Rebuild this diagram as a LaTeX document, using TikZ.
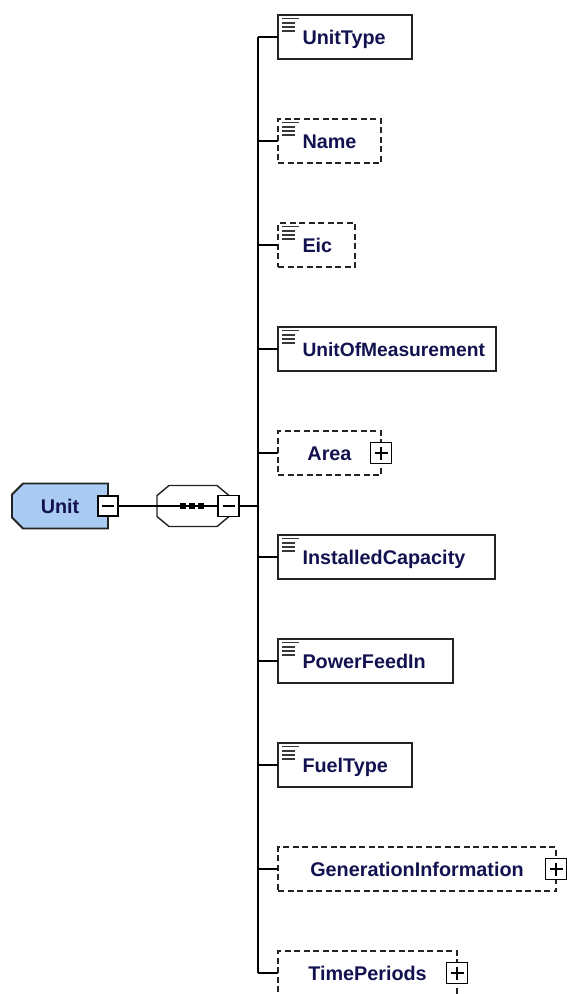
\documentclass[tikz,border=0pt]{standalone}
\usepackage{fontspec}
\setmainfont{Liberation Sans}
\pgfdeclarelayer{bg}
\pgfsetlayers{bg,main}
\definecolor{txt}{RGB}{18,18,80}
\definecolor{unitfill}{RGB}{170,204,242}
\definecolor{edge}{RGB}{35,35,35}
\definecolor{icon}{RGB}{55,55,55}
\newcommand\simpleicon[1]{%
  \draw[iconline] ([shift={(4,3.5)}]#1.north west) -- ++(17,0);
  \foreach \k in {1,2,3}{\draw[iconline] ([shift={(4,{3.5+4.2*\k})}]#1.north west) -- ++(13,0);}}
\newcommand\plussign[1]{%
  \draw[line width=1.4pt] ([xshift=-6.5pt]#1.center) -- ([xshift=6.5pt]#1.center);
  \draw[line width=1.4pt] ([yshift=-6.5pt]#1.center) -- ([yshift=6.5pt]#1.center);}
\newcommand\minussign[1]{%
  \draw[line width=1.3pt] ([xshift=-6pt]#1.center) -- ([xshift=6pt]#1.center);}
\newcommand\ind{\hspace*{24.5pt}}
\begin{document}
\begin{tikzpicture}[x=1pt,y=-1pt,
  lbl/.style={font=\fontsize{19.8}{20}\selectfont\bfseries, text=txt, text height=14pt, text depth=0pt, inner sep=0pt},
  elem/.style={lbl, rectangle, minimum height=44pt, text width=#1, align=left, anchor=west, outer sep=0pt, draw=edge, line width=2pt},
  optelem/.style={lbl, rectangle, minimum height=44pt, text width=#1, align=left, anchor=west, outer sep=0pt, draw=edge, line width=1.6pt, dash pattern=on 6pt off 3.5pt},
  optcplx/.style={lbl, rectangle, minimum height=44pt, minimum width=#1, anchor=west, outer sep=0pt, draw=edge, line width=1.6pt, dash pattern=on 6pt off 3.5pt},
  conn/.style={line width=1.5pt, black},
  tog/.style={rectangle, draw=black, fill=white, line width=1.4pt, minimum size=21pt, inner sep=0pt, solid},
  iconline/.style={line width=1.7pt, icon},
  compo/.style={rectangle, inner sep=0pt, outer sep=0pt}
]
\useasboundingbox (0,0) rectangle (567,994);
\clip (0,0) rectangle (567,994);

% root element
\node[compo, lbl, minimum width=96pt, minimum height=45pt] (unit) at (60,506) {Unit};
\begin{pgfonlayer}{bg}
\draw[fill=unitfill, draw=edge, line width=1.8pt]
  ([xshift=11pt]unit.north west) -- (unit.north east) -- (unit.south east)
  -- ([xshift=11pt]unit.south west) -- ([yshift=11pt]unit.south west)
  -- ([yshift=-11pt]unit.north west) -- cycle;
\end{pgfonlayer}
\node[tog, minimum size=20pt] (unitm) at (108,506) {};
\minussign{unitm}

% sequence compositor
\node[compo, minimum width=72pt, minimum height=41pt] (seq) at (193,506) {};
\draw[fill=white, draw=edge, line width=1.4pt]
  ([xshift=12pt]seq.north west) -- ([xshift=-12pt]seq.north east)
  -- ([yshift=-10pt]seq.north east) -- ([yshift=10pt]seq.south east)
  -- ([xshift=-12pt]seq.south east) -- ([xshift=12pt]seq.south west)
  -- ([yshift=10pt]seq.south west) -- ([yshift=-10pt]seq.north west) -- cycle;
\node[tog] (seqm) at (228.5,506) {};
\minussign{seqm}
\draw[line width=1.4pt] (seq.west) -- (seqm.west);
\foreach \cx in {183,192,201}{\fill[black] (\cx-3,503) rectangle (\cx+3,509);}
\draw[conn] (unitm.east) -- (seq.west);

% child elements
\node[elem=134pt] (n1) at (278,37) {\ind UnitType};
\node[optelem=103pt] (n2) at (278,141) {\ind Name};
\node[optelem=77pt] (n3) at (278,245) {\ind Eic};
\node[elem=218pt, font=\fontsize{19.2}{20}\selectfont\bfseries] (n4) at (278,349) {\ind UnitOfMeasurement};
\node[optcplx=103pt] (n5) at (278,453) {Area};
\node[elem=217pt] (n6) at (278,557) {\ind InstalledCapacity};
\node[elem=175pt] (n7) at (278,661) {\ind PowerFeedIn};
\node[elem=134pt] (n8) at (278,765) {\ind FuelType};
\node[optcplx=278pt] (n9) at (278,869) {GenerationInformation};
\node[optcplx=179pt] (n10) at (278,973) {TimePeriods};

\foreach \n in {n1,n2,n3,n4,n6,n7,n8}{\simpleicon{\n}}

\node[tog] (p5) at (n5.east) {};
\plussign{p5}
\node[tog] (p9) at (n9.east) {};
\plussign{p9}
\node[tog] (p10) at (n10.east) {};
\plussign{p10}

% connectors
\foreach \i/\y in {1/37,2/141,3/245,4/349,5/453,6/557,7/661,8/765,9/869,10/973}{
  \coordinate (b\i) at (258,\y);
  \draw[conn] (b\i) -- (n\i.west);
}
\draw[conn] (b1) -- (b10);
\draw[conn] (seqm.east) -- (seqm.east -| b1);
\end{tikzpicture}
\end{document}
